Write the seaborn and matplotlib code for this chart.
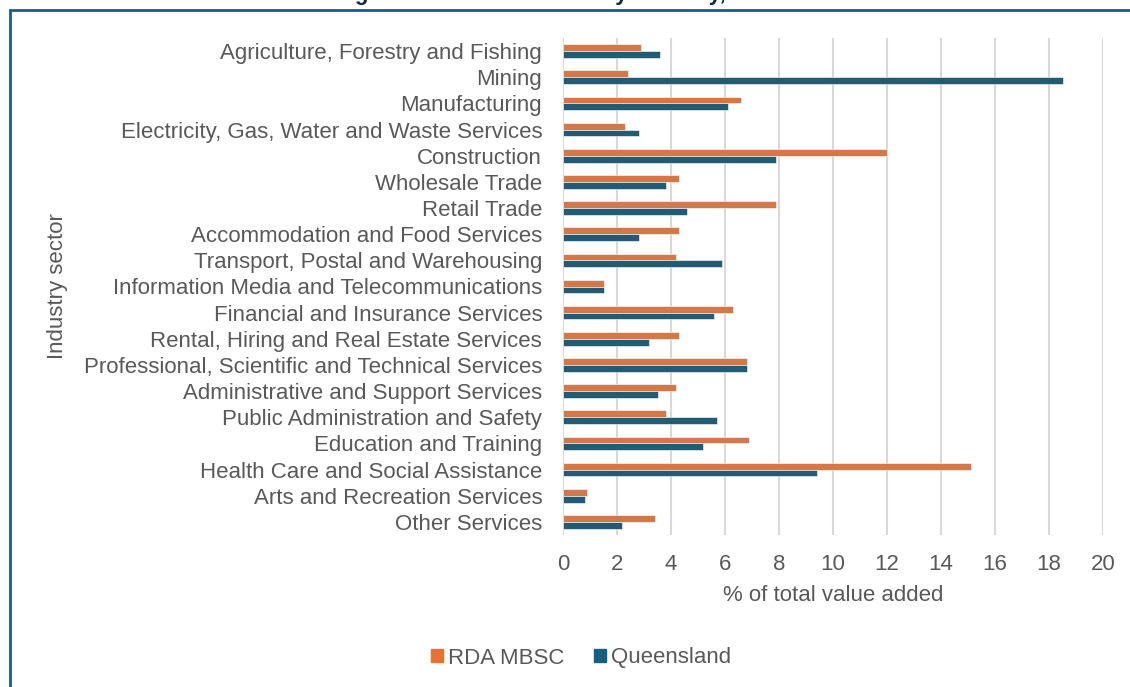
import pandas as pd
import matplotlib.pyplot as plt
import matplotlib.patches as mpatches
import seaborn as sns

# Data
industries = [
    "Agriculture, Forestry and Fishing",
    "Mining",
    "Manufacturing",
    "Electricity, Gas, Water and Waste Services",
    "Construction",
    "Wholesale Trade",
    "Retail Trade",
    "Accommodation and Food Services",
    "Transport, Postal and Warehousing",
    "Information Media and Telecommunications",
    "Financial and Insurance Services",
    "Rental, Hiring and Real Estate Services",
    "Professional, Scientific and Technical Services",
    "Administrative and Support Services",
    "Public Administration and Safety",
    "Education and Training",
    "Health Care and Social Assistance",
    "Arts and Recreation Services",
    "Other Services",
]
rda_mbsc = [2.9, 2.4, 6.6, 2.3, 12.0, 4.3, 7.9, 4.3, 4.2, 1.5,
            6.3, 4.3, 6.8, 4.2, 3.8, 6.9, 15.1, 0.9, 3.4]
queensland = [3.6, 18.5, 6.1, 2.8, 7.9, 3.8, 4.6, 2.8, 5.9, 1.5,
              5.6, 3.2, 6.8, 3.5, 5.7, 5.2, 9.4, 0.8, 2.2]
series_names = ["RDA MBSC", "Queensland"]
x_ticks = list(range(0, 21, 2))

df = pd.DataFrame({
    "industry": industries * 2,
    "series": [series_names[0]] * len(industries) + [series_names[1]] * len(industries),
    "value": rda_mbsc + queensland,
})

sns.set_theme(style="white")
plt.rcParams["font.family"] = ["Liberation Sans", "DejaVu Sans"]

text_col = "#595959"
orange = "#E97132"
blue = "#156082"

fig = plt.figure(figsize=(11.3, 6.87), dpi=100)
ax = fig.add_axes([563 / 1130, 1 - 535 / 687, 540 / 1130, 497 / 687])

sns.barplot(data=df, y="industry", x="value", hue="series", orient="h",
            palette=[orange, blue], width=0.52, ax=ax, legend=False,
            edgecolor="white", linewidth=0.4)

ax.set_xlim(0, 20)
ax.set_xticks(x_ticks)
ax.set_ylim(len(industries) - 0.5, -0.5)
ax.grid(axis="x", color="#D9D9D9", linewidth=1.5)
ax.grid(axis="y", visible=False)
ax.set_axisbelow(True)
for s in ax.spines.values():
    s.set_visible(False)

ax.tick_params(axis="x", length=0, pad=14, labelsize=16, labelcolor=text_col)
ax.tick_params(axis="y", length=0, pad=15, labelsize=16, labelcolor=text_col)
ax.set_xlabel("% of total value added", fontsize=16, color=text_col, labelpad=7)
ax.set_ylabel("Industry sector", fontsize=16, color=text_col)
ax.yaxis.set_label_coords(-0.917, 0.5)

# legend at the bottom
handles = [mpatches.Patch(color=orange, label=series_names[0]),
           mpatches.Patch(color=blue, label=series_names[1])]
fig.legend(handles=handles, loc="center", bbox_to_anchor=(581 / 1130, 1 - 658 / 687),
           ncol=2, frameon=False, fontsize=16, labelcolor=text_col,
           handlelength=0.55, handleheight=0.55, handletextpad=0.25, columnspacing=1.3)

# title, cut off at the top like the reference
fig.text(540 / 1130, 1.0, "Percentage of total value added by industry, 2021\u201322",
         ha="center", va="baseline", fontsize=16, fontweight="bold", color="#0E2841")

# chart border
border = mpatches.Rectangle((10 / 1130, -0.1), 1.2, 1 - 10 / 687 + 0.1,
                            transform=fig.transFigure, fill=False,
                            edgecolor=blue, linewidth=2, clip_on=False)
fig.patches.append(border)

fig.savefig("out.png", dpi=100)
plt.close(fig)
